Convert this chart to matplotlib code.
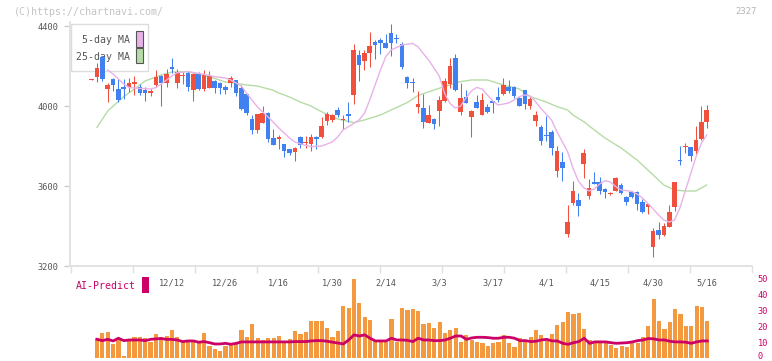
import matplotlib
matplotlib.use("Agg")
import matplotlib.pyplot as plt
import numpy as np
from matplotlib.patches import Rectangle
from matplotlib.transforms import blended_transform_factory, ScaledTranslation

# ---------------- data ----------------
opens = [4132, 4147, 4245, 4085, 4135, 4085, 4097, 4097, 4110, 4097,
         4078, 4063, 4105, 4152, 4117, 4195, 4117, 4148, 4167, 4080,
         4160, 4085, 4092, 4125, 4117, 4097, 4117, 4130, 4092, 4060,
         3933, 3880, 3917, 3967, 3838, 3835, 3810, 3783, 3772, 3843,
         3817, 3810, 3847, 3843, 3927, 3930, 3980, 3930, 3960, 4055,
         4255, 4227, 4267, 4322, 4330, 4317, 4363, 4340, 4310, 4143,
         4122, 3993, 3992, 3917, 3935, 3977, 4027, 4110, 4242, 3972,
         4047, 3947, 4018, 3955, 3997, 4025, 4047, 4058, 4093, 4093,
         4042, 4080, 4002, 3927, 3897, 3855, 3872, 3677, 3722, 3360,
         3513, 3530, 3710, 3550, 3622, 3622, 3585, 3562, 3577, 3605,
         3547, 3568, 3568, 3518, 3493, 3297, 3380, 3355, 3397, 3493,
         3728, 3795, 3793, 3777, 3835, 3918]
highs = [4135, 4213, 4250, 4113, 4138, 4135, 4135, 4138, 4152, 4110,
         4097, 4085, 4180, 4155, 4185, 4238, 4185, 4170, 4175, 4165,
         4168, 4180, 4175, 4128, 4120, 4105, 4150, 4132, 4105, 4062,
         3955, 3962, 4000, 3968, 3883, 3855, 3812, 3785, 3795, 3850,
         3850, 3860, 3850, 3947, 3972, 3962, 3995, 3955, 4022, 4310,
         4280, 4280, 4368, 4330, 4340, 4360, 4410, 4360, 4322, 4150,
         4140, 4077, 4060, 4005, 3938, 4050, 4138, 4238, 4258, 4113,
         4080, 3980, 4055, 4067, 4008, 4025, 4097, 4138, 4130, 4100,
         4045, 4082, 4045, 3975, 3905, 3950, 3880, 3800, 3772, 3505,
         3627, 3567, 3785, 3633, 3672, 3643, 3590, 3570, 3643, 3617,
         3550, 3577, 3575, 3535, 3510, 3392, 3418, 3417, 3505, 3618,
         3800, 3817, 3793, 3900, 4000, 4005]
lows = [4131, 4122, 4125, 4018, 4075, 4020, 4035, 4070, 4055, 4055,
        4027, 4050, 4095, 4000, 4097, 4165, 4090, 4110, 4077, 4027,
        4080, 4075, 4090, 4067, 4062, 4062, 4097, 4052, 3980, 3955,
        3860, 3867, 3915, 3822, 3803, 3785, 3747, 3755, 3727, 3788,
        3788, 3777, 3783, 3840, 3905, 3918, 3945, 3885, 3922, 4010,
        4125, 4180, 4197, 4235, 4258, 4288, 4252, 4313, 4183, 4088,
        4072, 3963, 3892, 3915, 3883, 3900, 4020, 4088, 4077, 3955,
        4015, 3847, 3990, 3955, 3965, 3967, 4020, 4055, 4065, 4040,
        4000, 3985, 3985, 3902, 3805, 3825, 3755, 3647, 3627, 3347,
        3505, 3450, 3638, 3535, 3608, 3560, 3542, 3555, 3573, 3560,
        3505, 3540, 3480, 3467, 3460, 3247, 3333, 3350, 3395, 3477,
        3705, 3763, 3727, 3760, 3830, 3892]
closes = [4134, 4192, 4135, 4105, 4105, 4030, 4085, 4117, 4122, 4067,
          4063, 4075, 4147, 4117, 4160, 4187, 4172, 4155, 4097, 4158,
          4085, 4155, 4150, 4092, 4092, 4080, 4138, 4067, 3985, 3967,
          3880, 3960, 3967, 3835, 3805, 3847, 3777, 3767, 3792, 3805,
          3822, 3847, 3833, 3902, 3960, 3955, 3955, 3935, 3950, 4280,
          4205, 4267, 4300, 4305, 4313, 4292, 4317, 4336, 4197, 4117,
          4113, 4010, 3922, 3955, 3908, 4030, 4125, 4200, 4080, 4042,
          4017, 3977, 3992, 4030, 3972, 4013, 4030, 4105, 4077, 4052,
          4002, 4008, 4035, 3955, 3827, 3852, 3792, 3775, 3692, 3420,
          3575, 3502, 3767, 3592, 3610, 3577, 3568, 3564, 3642, 3563,
          3522, 3547, 3508, 3472, 3510, 3375, 3355, 3400, 3468, 3618,
          3725, 3798, 3752, 3830, 3918, 3980]

ma5_idx = [3, 4, 6, 7, 9, 11, 12, 13, 15, 16, 18, 20, 23, 25, 26, 28, 29, 31,
           33, 35, 36, 37, 38, 40, 41, 43, 45, 46, 47, 49, 50, 51, 52, 53, 54,
           55, 56, 58, 60, 61, 62, 63, 65, 66, 67, 68, 69, 70, 71, 72, 73, 74,
           75, 76, 78, 79, 80, 81, 82, 83, 84, 86, 87, 88, 89, 90, 91, 92, 93,
           94, 95, 96, 97, 98, 99, 100, 101, 102, 103, 104, 105, 106, 107, 108,
           109, 110, 111, 112, 113, 114, 115]
ma5_val = [4180, 4160, 4110, 4092, 4088, 4085, 4092, 4110, 4150, 4167, 4172,
           4163, 4147, 4140, 4130, 4100, 4063, 3995, 3945, 3890, 3865, 3840,
           3820, 3803, 3797, 3800, 3820, 3845, 3880, 3913, 3930, 3963, 4030,
           4105, 4180, 4247, 4280, 4305, 4313, 4297, 4263, 4230, 4150, 4063,
           4013, 3990, 4000, 4040, 4075, 4093, 4085, 4055, 4025, 4005, 4015,
           4030, 4047, 4055, 4050, 4022, 3988, 3930, 3872, 3822, 3772, 3690,
           3625, 3592, 3575, 3585, 3610, 3627, 3620, 3597, 3580, 3577, 3573,
           3560, 3540, 3513, 3485, 3455, 3430, 3420, 3430, 3490, 3575, 3660,
           3745, 3813, 3855]

ma25_idx = [1, 3, 6, 8, 10, 13, 15, 18, 20, 23, 25, 27, 29, 31, 34, 35, 37, 39,
            41, 42, 44, 46, 49, 51, 54, 56, 59, 61, 64, 66, 69, 71, 74, 75, 77,
            80, 82, 85, 87, 89, 90, 92, 94, 96, 99, 102, 104, 107, 109, 111,
            113, 115]
ma25_val = [3893, 3975, 4047, 4085, 4125, 4155, 4170, 4172, 4160, 4138, 4120,
            4113, 4105, 4100, 4078, 4065, 4045, 4020, 4000, 3985, 3958, 3935,
            3917, 3930, 3955, 3980, 4017, 4052, 4080, 4097, 4122, 4130, 4130,
            4122, 4105, 4085, 4047, 4020, 3997, 3980, 3955, 3922, 3880, 3840,
            3790, 3730, 3680, 3605, 3580, 3575, 3575, 3605]

date_idx = [15, 25, 35, 45, 55, 65, 75, 85, 95, 105, 115]
date_labels = ["12/12", "12/26", "1/16", "1/30", "2/14", "3/3", "3/17",
               "4/1", "4/15", "4/30", "5/16"]

ai_bars = [12.8, 15.9, 16.6, 8.8, 11.3, 1.5, 11.3, 13.0, 13.4, 12.4,
           10.3, 15.1, 13.0, 13.8, 17.6, 13.0, 10.7, 11.3, 10.7, 10.3,
           15.9, 7.6, 5.7, 4.4, 7.6, 8.2, 9.2, 17.6, 13.0, 21.4,
           12.4, 11.3, 12.4, 12.4, 13.8, 10.9, 11.7, 17.0, 15.1, 16.6,
           23.3, 23.3, 23.3, 18.9, 13.4, 17.2, 32.7, 31.4, 49.7, 34.2,
           25.8, 23.9, 11.3, 10.3, 10.3, 24.5, 10.3, 31.4, 29.8, 30.8,
           29.5, 21.2, 22.2, 19.1, 22.8, 15.9, 17.6, 18.7, 10.3, 14.5,
           11.3, 10.3, 9.6, 7.6, 9.2, 10.3, 14.5, 9.2, 7.1, 12.8,
           11.3, 13.0, 17.6, 14.5, 11.3, 15.1, 20.8, 22.8, 28.7, 27.4,
           28.5, 18.3, 11.3, 10.3, 9.2, 9.2, 8.2, 6.1, 7.6, 7.1,
           9.6, 9.6, 13.0, 20.1, 37.1, 23.3, 18.3, 22.8, 30.8, 27.6,
           20.1, 20.1, 32.7, 32.1, 23.3]
ai_line = [11.7, 10.9, 11.7, 10.7, 12.4, 10.9, 11.3, 11.3, 11.3, 10.9,
           11.7, 12.0, 12.2, 11.7, 11.7, 11.3, 10.3, 10.7, 10.7, 9.9,
           10.3, 9.6, 8.8, 8.8, 9.2, 8.6, 9.2, 10.1, 10.1, 10.1,
           10.1, 10.1, 10.1, 10.1, 10.1, 10.1, 10.1, 10.3, 10.3, 10.3,
           10.7, 10.9, 10.9, 10.5, 9.9, 9.4, 8.8, 11.3, 14.5, 13.8,
           14.5, 12.4, 10.7, 10.7, 10.7, 12.4, 11.3, 11.3, 11.1, 10.3,
           12.4, 11.3, 11.3, 10.9, 10.9, 11.3, 12.4, 13.8, 13.8, 11.7,
           12.6, 13.0, 13.0, 12.8, 12.4, 12.4, 13.0, 13.0, 12.4, 10.9,
           10.9, 10.3, 10.5, 11.3, 11.7, 10.7, 10.7, 9.2, 8.6, 9.6,
           10.3, 12.4, 9.2, 10.1, 10.1, 10.1, 9.6, 9.2, 9.4, 9.6,
           10.1, 10.9, 11.3, 12.2, 12.0, 11.3, 11.3, 10.5, 10.1, 10.1,
           9.9, 9.2, 10.1, 10.7, 10.7]

# ---------------- style ----------------
W, H = 772, 361
RED = "#f0503c"
BLUE = "#4080f0"
PINK = "#e8b2e8"
GREEN = "#b6dca6"
ORANGE = "#f39a40"
CRIMSON = "#cc0066"
AXC = "#e0e0e0"
TXT = "#555555"
MONO = "DejaVu Sans Mono"

PX0, PX1 = 70, 752          # plot left/right in pixels
STEP, IDX0_PX = 5.353, 91.7  # pixel step per candle, pixel of candle 0


def rect(x0, y0, x1, y1):
    return [x0 / W, 1 - y1 / H, (x1 - x0) / W, (y1 - y0) / H]


def px_to_idx(px):
    return (px - IDX0_PX) / STEP


fig = plt.figure(figsize=(W / 100, H / 100), dpi=100)
fig.patch.set_facecolor("white")

# ---------------- main candle panel ----------------
ax = fig.add_axes(rect(PX0, 22, PX1, 266))
ax.set_xlim(px_to_idx(PX0), px_to_idx(PX1))
ax.set_ylim(3200, 3200 + (266 - 22) * 5)

n = len(opens)
idx = np.arange(n)
o = np.array(opens); c = np.array(closes)
hi = np.array(highs); lo = np.array(lows)
up = c >= o
cols = np.where(up, RED, BLUE)
ax.vlines(idx, lo, hi, colors=cols, linewidth=0.75, zorder=3)
body_bot = np.minimum(o, c)
body_h = np.maximum(np.abs(c - o), 5)
ax.bar(idx, body_h, bottom=body_bot, width=0.86, color=cols,
       linewidth=0, zorder=4)

ax.plot(ma5_idx, ma5_val, color=PINK, linewidth=1.0, zorder=5)
ax.plot(ma25_idx, ma25_val, color=GREEN, linewidth=1.0, zorder=2)

for s in ["top", "right"]:
    ax.spines[s].set_visible(False)
for s in ["left", "bottom"]:
    ax.spines[s].set_color(AXC)
    ax.spines[s].set_linewidth(1.3)

ax.set_yticks([3200, 3600, 4000, 4400])
ax.set_yticklabels(["3200", "3600", "4000", "4400"], family=MONO,
                   fontsize=6.2, color=TXT)
ax.tick_params(axis="y", length=4.5, width=1.0, color="#cccccc", pad=3.5)

grid_px = [70.7 + 62 * k for k in range(12)]
ax.set_xticks([px_to_idx(p) for p in grid_px])
ax.set_xticklabels([])
ax.tick_params(axis="x", length=5, width=1.0, color=AXC)

tr = blended_transform_factory(ax.transData, ax.transAxes)
for di, lab in zip(date_idx, date_labels):
    ax.text(di, (266 - 282.5) / 244, lab, transform=tr, ha="center",
            va="center", family=MONO, fontsize=6.2, color=TXT, clip_on=False)

# legend box (behind candles)
def fx(px):
    return (px - PX0) / (PX1 - PX0)

def fy(py):
    return (266 - py) / 244

ax.add_patch(Rectangle((fx(70.7), fy(71)), fx(148.3) - fx(70.7),
                       fy(24.3) - fy(71), transform=ax.transAxes,
                       facecolor="white", edgecolor="#dddddd",
                       linewidth=1.0, zorder=1, clip_on=False))
ax.add_patch(Rectangle((fx(136.3), fy(46.5)), fx(142.5) - fx(136.3),
                       fy(31.3) - fy(46.5), transform=ax.transAxes,
                       facecolor=PINK, edgecolor="#555555", linewidth=0.8,
                       zorder=1.5, clip_on=False))
ax.add_patch(Rectangle((fx(136.3), fy(63.3)), fx(142.5) - fx(136.3),
                       fy(48.3) - fy(63.3), transform=ax.transAxes,
                       facecolor=GREEN, edgecolor="#555555", linewidth=0.8,
                       zorder=1.5, clip_on=False))
ax.text(fx(129.5), fy(40), "5-day MA", transform=ax.transAxes, ha="right",
        va="center", family=MONO, fontsize=7.1, color=TXT, zorder=1.5)
ax.text(fx(129.5), fy(56.7), "25-day MA", transform=ax.transAxes, ha="right",
        va="center", family=MONO, fontsize=7.1, color=TXT, zorder=1.5)

# ---------------- AI-Predict panel ----------------
ax2 = fig.add_axes(rect(PX0, 270, PX1, 358))
ax2.set_xlim(px_to_idx(PX0), px_to_idx(PX1))
ax2.set_ylim(0, (358 - 270) / 1.594)
ax2.patch.set_alpha(0)
bidx = np.arange(1, len(ai_bars) + 1)
ax2.bar(bidx, ai_bars, width=0.78, color=ORANGE, linewidth=0, zorder=2)
ax2.plot(bidx, ai_line, color=CRIMSON, linewidth=2.0, zorder=3)
for s in ax2.spines.values():
    s.set_visible(False)
ax2.set_xticks([])
ax2.yaxis.tick_right()
ax2.set_yticks([0, 10, 20, 30, 40, 50])
ax2.set_yticklabels(["0", "10", "20", "30", "40", "50"], family=MONO,
                    fontsize=6.2, color=CRIMSON)
ax2.tick_params(axis="y", length=0, pad=4)
# lift the "0" label slightly so it stays inside the figure
lab0 = ax2.get_yticklabels()[0]
lab0.set_transform(lab0.get_transform() +
                   ScaledTranslation(0, 1.8 / 72, fig.dpi_scale_trans))

fig.text(76 / W, 1 - 286 / H, "AI-Predict", family=MONO, fontsize=7.1,
         color=CRIMSON, ha="left", va="center")
fig.patches.append(Rectangle((142 / W, 1 - 292.7 / H), 6.7 / W, 16 / H,
                             transform=fig.transFigure, facecolor=CRIMSON,
                             edgecolor="none"))

# header texts
fig.text(14 / W, 1 - 12 / H, "(C)https://chartnavi.com/", family=MONO,
         fontsize=7.2, color="#c4c4c4", ha="left", va="center")
fig.text(757 / W, 1 - 12 / H, "2327", family=MONO, fontsize=6.4,
         color="#b4b4b4", ha="right", va="center")

fig.savefig("out.png", dpi=100, facecolor="white")
